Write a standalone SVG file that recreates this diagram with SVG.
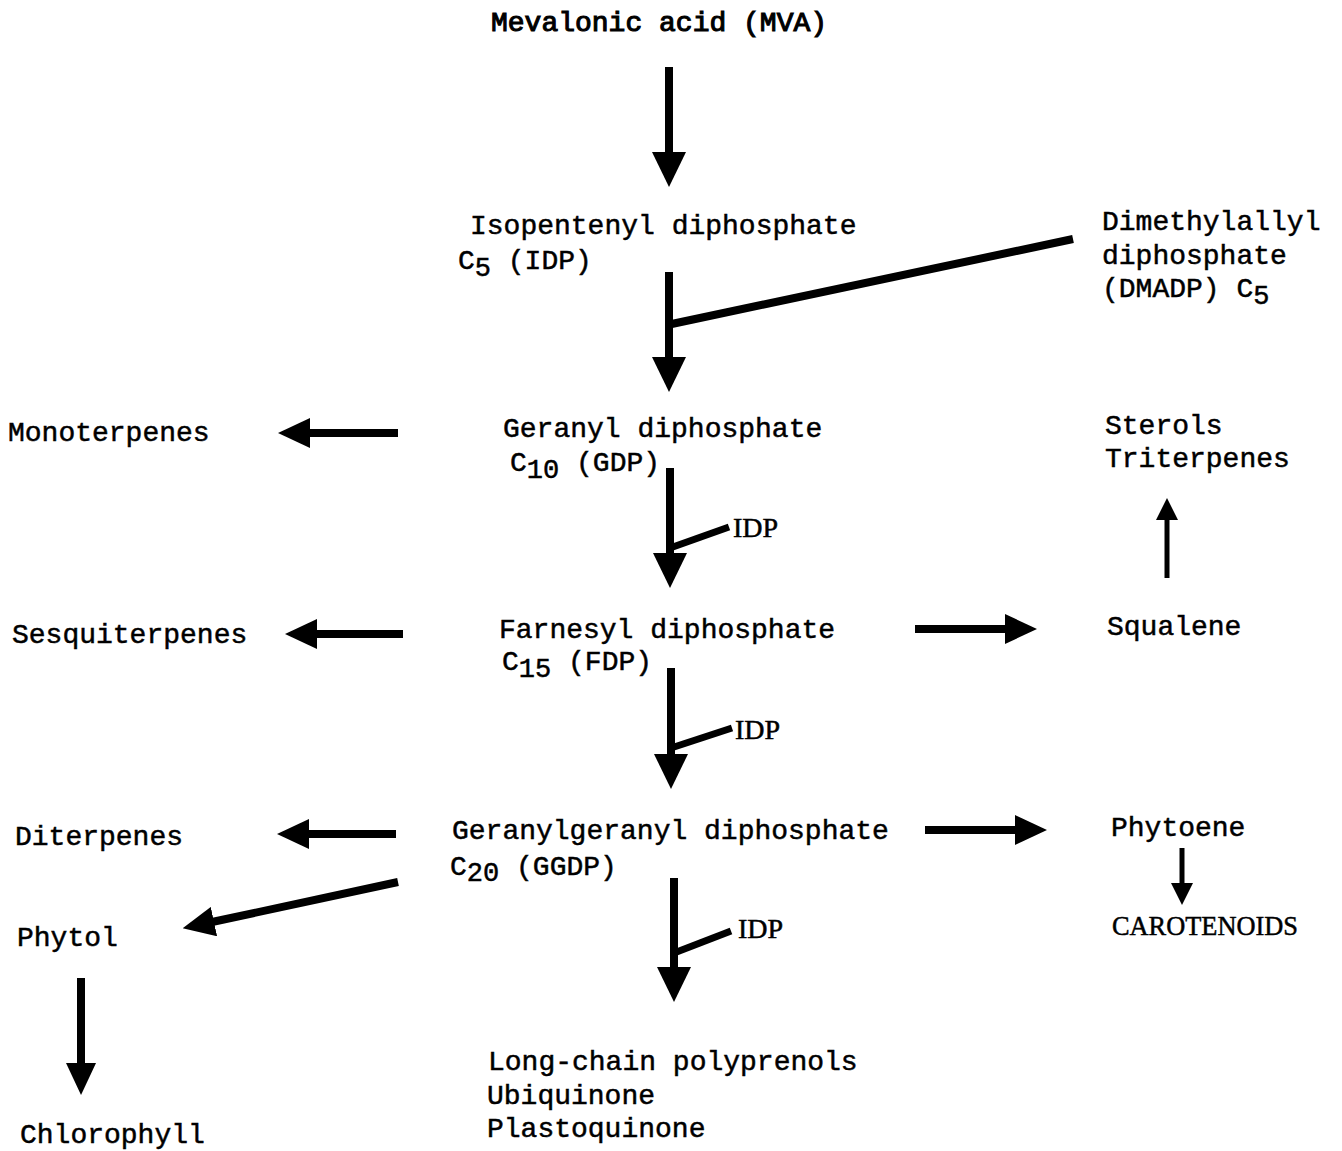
<svg xmlns="http://www.w3.org/2000/svg" width="1342" height="1151" viewBox="0 0 1342 1151">
<style>
text{font-family:"Liberation Mono","Courier New",monospace;font-size:28px;fill:#000;stroke:#000;stroke-width:0.5}
.b{stroke-width:1.1}
.ser{font-family:"Liberation Serif","Times New Roman",serif}
.sub{font-size:27px}
.c{stroke:#000;fill:none;stroke-linecap:butt}
.w8{stroke-width:8}
.w7{stroke-width:7}
.w5{stroke-width:5}
</style>
<defs>
<marker id="big" markerUnits="userSpaceOnUse" viewBox="0 -17 35 34" refX="2" refY="0" markerWidth="35" markerHeight="34" orient="auto"><path d="M0,-17 L35,0 L0,17 z" fill="#000"/></marker>
<marker id="mid" markerUnits="userSpaceOnUse" viewBox="0 -15 32 30" refX="2" refY="0" markerWidth="32" markerHeight="30" orient="auto"><path d="M0,-15 L32,0 L0,15 z" fill="#000"/></marker>
<marker id="sm" markerUnits="userSpaceOnUse" viewBox="0 -11 22 22" refX="2" refY="0" markerWidth="22" markerHeight="22" orient="auto"><path d="M0,-11 L22,0 L0,11 z" fill="#000"/></marker>
</defs>
<rect width="1342" height="1151" fill="#fff"/>

<g id="connectors">
<line class="c w8" x1="669" y1="67" x2="669" y2="154" marker-end="url(#big)"/>
<line class="c w8" x1="669" y1="272" x2="669" y2="359" marker-end="url(#big)"/>
<line class="c w8" x1="667" y1="325" x2="1073" y2="239"/>
<line class="c w8" x1="670" y1="468" x2="670" y2="555" marker-end="url(#big)"/>
<line class="c w7" x1="670" y1="548" x2="729" y2="527"/>
<line class="c w8" x1="671" y1="668" x2="671" y2="756" marker-end="url(#big)"/>
<line class="c w7" x1="671" y1="748" x2="732" y2="728"/>
<line class="c w8" x1="674" y1="878" x2="674" y2="969" marker-end="url(#big)"/>
<line class="c w7" x1="674" y1="953" x2="731" y2="931"/>
<line class="c w8" x1="398" y1="433" x2="308" y2="433" marker-end="url(#mid)"/>
<line class="c w8" x1="403" y1="634" x2="315" y2="634" marker-end="url(#mid)"/>
<line class="c w8" x1="396" y1="834" x2="307" y2="834" marker-end="url(#mid)"/>
<line class="c w8" x1="398" y1="882" x2="212" y2="922" marker-end="url(#mid)"/>
<line class="c w8" x1="81" y1="978" x2="81" y2="1065" marker-end="url(#mid)"/>
<line class="c w8" x1="915" y1="629" x2="1007" y2="629" marker-end="url(#mid)"/>
<line class="c w8" x1="925" y1="830" x2="1017" y2="830" marker-end="url(#mid)"/>
<line class="c w5" x1="1182" y1="848" x2="1182" y2="885" marker-end="url(#sm)"/>
<line class="c w5" x1="1167" y1="578" x2="1167" y2="518" marker-end="url(#sm)"/>
</g>

<g id="mva"><text class="b" x="491" y="31">Mevalonic acid (MVA)</text></g>
<g id="idp"><text x="470" y="234">Isopentenyl diphosphate</text><text x="458" y="269">C<tspan class="sub" dy="7">5</tspan><tspan dy="-7"> (IDP)</tspan></text></g>
<g id="dmadp"><text x="1102" y="230">Dimethylallyl</text><text x="1102" y="264">diphosphate</text><text x="1102" y="297">(DMADP) C<tspan class="sub" dy="7">5</tspan></text></g>
<g id="gdp"><text x="503" y="437">Geranyl diphosphate</text><text x="510" y="471">C<tspan class="sub" dy="7">10</tspan><tspan dy="-7"> (GDP)</tspan></text></g>
<g id="mono"><text x="8" y="441">Monoterpenes</text></g>
<g id="sterols"><text x="1105" y="434">Sterols</text><text x="1105" y="467">Triterpenes</text></g>
<g id="idp1"><text class="ser" x="733" y="537">IDP</text></g>
<g id="fdp"><text x="499" y="638">Farnesyl diphosphate</text><text x="502" y="670">C<tspan class="sub" dy="7">15</tspan><tspan dy="-7"> (FDP)</tspan></text></g>
<g id="sesq"><text x="12" y="643">Sesquiterpenes</text></g>
<g id="squalene"><text x="1107" y="635">Squalene</text></g>
<g id="idp2"><text class="ser" x="735" y="739">IDP</text></g>
<g id="ggdp"><text x="452" y="839">Geranylgeranyl diphosphate</text><text x="450" y="875">C<tspan class="sub" dy="6">20</tspan><tspan dy="-6"> (GGDP)</tspan></text></g>
<g id="diterpenes"><text x="15" y="845">Diterpenes</text></g>
<g id="phytoene"><text x="1111" y="836">Phytoene</text></g>
<g id="phytol"><text x="17" y="946">Phytol</text></g>
<g id="idp3"><text class="ser" x="738" y="938">IDP</text></g>
<g id="carotenoids"><text class="ser" x="1112" y="935" textLength="186" lengthAdjust="spacingAndGlyphs">CAROTENOIDS</text></g>
<g id="polyprenols"><text x="488" y="1070">Long-chain polyprenols</text><text x="487" y="1104">Ubiquinone</text><text x="487" y="1137">Plastoquinone</text></g>
<g id="chlorophyll"><text x="20" y="1143">Chlorophyll</text></g>
</svg>
